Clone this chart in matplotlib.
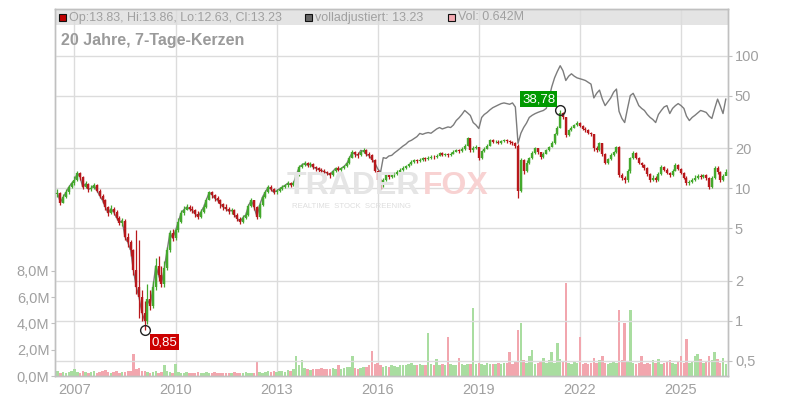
import matplotlib
matplotlib.use("Agg")
import matplotlib.pyplot as plt
import pandas as pd
import numpy as np
from matplotlib.patches import Rectangle

plt.rcParams['font.family'] = ['Liberation Sans', 'DejaVu Sans']

# ---- data (monthly readings, starting July 2006) ----
close = [
    9.2, 7.8, 8.6, 9.3, 10.2, 10.9, 11.5, 13.0, 12.2, 10.2, 10.8, 9.8,
    10.0, 10.5, 9.6, 8.8, 8.1, 7.2, 6.5, 7.0, 6.6, 6.0, 5.5, 5.7,
    4.3, 3.9, 3.4, 2.4, 1.8, 1.5, 1.15, 1.0, 1.45, 1.3, 1.8, 2.6,
    2.2, 1.9, 2.5, 3.4, 4.6, 4.2, 4.8, 5.6, 6.5, 6.9, 7.2, 7.0,
    6.8, 6.4, 6.1, 6.6, 7.2, 8.2, 9.3, 8.9, 8.4, 8.1, 7.6, 7.2,
    7.0, 6.7, 6.8, 6.3, 5.9, 5.6, 6.0, 6.3, 7.4, 8.1, 7.2, 6.1,
    7.5, 8.6, 9.4, 10.2, 9.8, 9.3, 9.6, 9.9, 10.2, 10.5, 10.9, 10.6,
    10.9, 12.5, 14.4, 15.0, 15.4, 14.9, 15.2, 14.4, 14.1, 13.8, 13.6, 13.3,
    13.0, 12.6, 13.4, 14.1, 13.8, 14.1, 14.6, 15.4, 17.0, 18.6, 18.0, 17.7,
    18.8, 19.3, 18.2, 17.7, 16.2, 13.6, 11.5, 10.5, 11.6, 12.5, 12.2, 12.5,
    12.9, 13.3, 13.8, 14.1, 14.6, 15.2, 15.8, 16.2, 16.0, 16.4, 16.8, 16.5,
    16.9, 17.3, 17.1, 17.6, 18.3, 17.9, 18.0, 17.7, 18.2, 18.8, 19.3, 19.0,
    19.8, 21.0, 23.8, 19.3, 20.0, 20.4, 16.8, 19.0, 19.8, 21.0, 23.0, 22.4,
    22.5, 22.0, 22.6, 23.0, 22.8, 22.3, 22.0, 21.0, 9.5, 16.2, 13.6, 15.5,
    16.8, 18.5, 20.0, 18.6, 17.1, 18.2, 19.3, 20.5, 22.0, 25.5, 28.7, 37.0,
    34.2, 25.0, 27.5, 28.7, 30.0, 31.3, 29.5, 28.2, 27.5, 26.3, 25.5, 20.0,
    19.3, 21.8, 18.0, 15.6, 16.5, 17.7, 18.6, 20.4, 12.5, 12.0, 11.5, 13.5,
    16.8, 18.3, 17.0, 15.6, 15.0, 14.1, 12.8, 11.5, 12.0, 11.5, 12.8, 14.4,
    13.8, 13.0, 12.5, 13.6, 14.9, 14.0, 13.0, 12.0, 10.9, 11.2, 11.5, 12.0,
    12.4, 12.1, 12.5, 11.9, 10.2, 12.0, 14.1, 13.2, 11.5, 12.4, 13.23,
]
high = [
    9.8, 9.4, 9.0, 9.8, 10.6, 11.4, 12.3, 13.6, 13.3, 12.4, 11.3, 11.0,
    10.6, 11.0, 10.7, 9.8, 9.0, 8.3, 7.4, 7.5, 7.2, 6.8, 6.2, 6.0,
    5.9, 4.6, 4.1, 3.5, 4.8, 4.1, 1.7, 1.4, 1.9, 1.7, 2.0, 3.0,
    3.1, 2.6, 2.8, 3.6, 4.8, 4.9, 5.0, 6.0, 6.9, 7.4, 7.6, 7.5,
    7.3, 7.0, 6.7, 7.0, 7.6, 8.5, 9.5, 9.6, 9.1, 8.7, 8.3, 7.8,
    7.6, 7.2, 7.1, 7.0, 6.5, 6.1, 6.3, 6.6, 7.6, 8.5, 8.2, 7.3,
    7.8, 8.9, 9.7, 10.6, 10.5, 10.0, 9.9, 10.3, 10.5, 10.8, 11.3, 11.2,
    11.3, 13.0, 14.9, 15.6, 16.1, 15.7, 15.8, 15.4, 14.8, 14.5, 14.3, 14.0,
    13.6, 13.3, 13.8, 14.5, 14.6, 14.5, 15.0, 15.9, 17.5, 19.3, 19.0, 18.6,
    19.4, 20.0, 19.6, 18.7, 18.1, 16.5, 13.8, 11.8, 12.0, 12.8, 12.9, 12.9,
    13.3, 13.7, 14.2, 14.6, 15.0, 15.6, 16.2, 16.6, 16.7, 16.8, 17.3, 17.2,
    17.4, 17.8, 17.7, 18.1, 18.8, 18.6, 18.5, 18.4, 18.7, 19.3, 19.9, 19.7,
    20.3, 21.7, 24.2, 23.0, 20.8, 21.2, 20.6, 19.5, 20.3, 21.5, 23.6, 23.4,
    23.2, 23.0, 23.2, 23.6, 23.4, 23.0, 22.7, 22.3, 21.5, 16.8, 16.5, 16.4,
    17.3, 19.0, 20.6, 20.2, 18.9, 18.7, 19.9, 21.0, 22.6, 26.0, 29.5, 38.78,
    37.5, 34.5, 28.2, 29.5, 30.7, 32.0, 31.6, 29.8, 28.9, 27.8, 26.6, 25.8,
    20.7, 22.4, 22.0, 18.4, 17.0, 18.3, 19.2, 21.0, 20.8, 13.1, 12.4, 14.0,
    17.3, 19.0, 18.6, 17.3, 15.9, 15.3, 14.4, 13.1, 12.5, 12.3, 13.2, 14.9,
    14.8, 14.2, 13.3, 14.0, 15.5, 15.2, 14.3, 13.3, 12.3, 11.6, 11.9, 12.5,
    12.8, 12.8, 12.9, 12.8, 12.2, 12.4, 14.6, 14.8, 13.6, 12.9, 13.86,
]
low = [
    8.6, 7.5, 7.7, 8.4, 9.0, 10.0, 10.6, 11.3, 11.6, 9.8, 10.0, 9.4,
    9.5, 9.8, 9.4, 8.4, 7.8, 6.9, 6.2, 6.4, 6.3, 5.8, 5.3, 5.2,
    4.1, 3.6, 3.1, 2.2, 1.6, 1.05, 1.0, 0.85, 0.95, 1.2, 1.25, 1.7,
    2.0, 1.8, 1.8, 2.4, 3.3, 4.0, 4.1, 4.7, 5.5, 6.3, 6.8, 6.7,
    6.5, 6.1, 5.9, 6.0, 6.5, 7.1, 8.1, 8.5, 8.0, 7.7, 7.1, 6.9,
    6.7, 6.4, 6.4, 6.1, 5.7, 5.4, 5.5, 5.9, 6.2, 7.2, 6.9, 5.9,
    6.0, 7.3, 8.4, 9.2, 9.5, 9.0, 9.1, 9.4, 9.7, 10.0, 10.3, 10.3,
    10.4, 10.7, 12.3, 14.1, 14.6, 14.4, 14.5, 14.0, 13.6, 13.3, 13.0, 12.8,
    12.5, 12.0, 12.4, 13.2, 13.4, 13.5, 13.9, 14.4, 15.2, 16.8, 17.3, 17.0,
    17.4, 18.4, 17.6, 17.0, 15.7, 13.2, 11.2, 9.9, 10.3, 11.4, 11.8, 11.9,
    12.2, 12.6, 13.1, 13.6, 14.0, 14.4, 15.0, 15.6, 15.5, 15.8, 16.1, 16.0,
    16.2, 16.7, 16.6, 16.9, 17.4, 17.4, 17.5, 17.2, 17.5, 18.0, 18.6, 18.5,
    18.7, 19.5, 20.8, 18.6, 18.9, 19.6, 16.2, 16.6, 18.8, 19.6, 20.7, 21.8,
    21.8, 21.5, 21.6, 22.3, 22.0, 21.6, 21.3, 20.2, 8.5, 9.3, 12.9, 13.3,
    15.2, 16.5, 18.2, 18.2, 16.7, 16.9, 18.0, 19.1, 20.3, 21.6, 25.2, 28.5,
    33.4, 24.2, 24.6, 27.0, 28.3, 29.5, 29.0, 27.6, 26.7, 25.8, 24.9, 19.0,
    18.8, 19.0, 17.5, 15.1, 15.3, 16.3, 17.4, 18.3, 12.2, 11.5, 11.0, 11.2,
    13.1, 16.5, 16.6, 15.2, 14.5, 13.7, 12.4, 11.1, 11.3, 11.1, 11.3, 12.6,
    13.4, 12.7, 12.1, 12.3, 13.4, 13.7, 12.7, 11.7, 10.5, 10.6, 11.0, 11.3,
    11.8, 11.8, 11.9, 11.6, 9.9, 10.1, 11.8, 12.9, 11.2, 11.3, 12.63,
]
first_open = 9.0

# fully adjusted line, from June 2015 on (before it coincides with close)
adjusted_from_2015 = [
    19.3, 19.0, 18.0, 17.5, 16.5, 15.5, 14.0, 13.2, 17.0, 16.8, 17.5, 17.7,
    18.5, 19.2, 20.0, 20.8, 21.5, 22.5, 23.0, 23.8, 24.5, 25.9, 25.5, 26.0,
    26.3, 26.0, 27.0, 28.0, 28.7, 28.0, 28.5, 29.0, 28.7, 30.0, 32.4, 34.0,
    36.0, 38.6, 37.0, 35.4, 31.3, 30.0, 28.2, 34.2, 36.0, 37.3, 39.0, 40.5,
    41.5, 42.5, 43.5, 44.0, 43.5, 43.0, 44.0, 41.0, 21.8, 26.0, 28.7, 31.0,
    34.2, 35.5, 36.5, 37.3, 38.0, 38.6, 40.0, 48.0, 58.0, 68.0, 76.0, 84.0,
    77.0, 65.0, 70.0, 73.0, 70.0, 68.0, 67.0, 66.0, 65.0, 63.0, 61.0, 48.0,
    52.0, 55.0, 47.0, 42.0, 45.0, 48.0, 53.0, 56.0, 38.0, 33.6, 31.3, 40.0,
    50.0, 52.0, 47.0, 42.0, 40.0, 38.6, 36.0, 34.2, 33.0, 31.3, 36.0, 38.6,
    41.0, 42.0, 36.6, 40.0, 42.0, 43.5, 42.0, 40.0, 35.0, 32.4, 34.2, 35.5,
    37.0, 38.6, 38.0, 37.3, 35.0, 33.6, 40.0, 47.0, 42.0, 36.6, 47.0,
]

# volume in millions
volume_m = [
    0.35, 0.25, 0.3, 0.2, 0.3, 0.4, 0.55, 0.3, 0.25, 0.35, 0.3, 0.25,
    0.3, 0.4, 0.25, 0.3, 0.35, 0.45, 0.3, 0.25, 0.3, 0.35, 0.25, 0.3,
    0.3, 0.35, 0.4, 1.7, 0.5, 0.6, 0.4, 0.35, 0.3, 0.25, 0.3, 0.35,
    0.25, 0.3, 0.8, 0.35, 0.3, 0.25, 0.9, 0.3, 0.25, 0.2, 0.3, 0.25,
    0.2, 0.25, 0.3, 0.2, 0.25, 0.3, 0.2, 0.25, 0.3, 0.2, 0.25, 0.2,
    0.2, 0.25, 0.2, 0.3, 0.25, 0.2, 0.25, 0.3, 0.2, 0.25, 0.2, 1.1,
    0.3, 0.25, 0.3, 0.35, 0.3, 0.4, 0.3, 0.35, 0.4, 0.3, 0.45, 0.4,
    0.5, 1.5, 0.8, 1.2, 0.6, 0.5, 0.45, 0.5, 0.55, 0.5, 0.6, 0.5,
    0.5, 0.55, 0.6, 0.5, 0.8, 0.55, 0.6, 0.65, 0.7, 1.5, 0.6, 0.55,
    0.6, 0.7, 0.65, 0.8, 1.9, 0.9, 1.0, 0.8, 0.7, 0.75, 0.7, 0.8,
    0.75, 0.7, 0.8, 0.85, 0.8, 0.9, 1.0, 0.85, 0.8, 0.9, 0.85, 0.8,
    3.3, 0.9, 0.8, 1.3, 0.85, 0.9, 0.8, 3.0, 0.9, 0.85, 0.8, 1.4,
    0.9, 0.85, 0.9, 0.95, 5.2, 0.9, 1.0, 0.95, 0.85, 1.0, 0.9, 0.95,
    0.95, 1.0, 0.9, 1.0, 1.0, 1.8, 0.9, 1.1, 3.5, 4.0, 1.2, 1.0,
    1.5, 2.0, 0.95, 1.0, 1.1, 1.4, 1.0, 1.2, 1.8, 1.0, 2.5, 1.3,
    1.1, 7.1, 1.0, 0.9, 1.1, 1.0, 3.0, 0.95, 1.0, 0.9, 1.0, 1.4,
    1.0, 1.2, 1.5, 1.0, 0.9, 1.0, 1.1, 1.0, 5.0, 1.2, 4.0, 1.1,
    5.0, 1.0, 0.9, 1.0, 1.5, 0.95, 1.0, 0.9, 1.2, 1.0, 1.3, 0.9,
    1.0, 1.1, 1.2, 1.0, 0.95, 1.1, 1.5, 1.0, 2.8, 1.0, 1.1, 1.5,
    1.7, 1.3, 1.0, 1.1, 1.5, 1.2, 1.8, 1.3, 1.0, 1.4, 0.9,
]

price_ticks = [0.5, 1, 2, 5, 10, 20, 50, 100]
price_labels = ['0,5', '1', '2', '5', '10', '20', '50', '100']
vol_ticks = [0, 2, 4, 6, 8]
vol_labels = ['0,0M', '2,0M', '4,0M', '6,0M', '8,0M']
year_ticks = [2007, 2010, 2013, 2016, 2019, 2022, 2025]

header_items = [
    ('Op:13.83, Hi:13.86, Lo:12.63, Cl:13.23', '#c00000'),
    ('volladjustiert: 13.23', '#666666'),
    ('Vol: 0.642M', '#f4a9b1'),
]
title = '20 Jahre, 7-Tage-Kerzen'

# ---- derived ----
dates = pd.date_range('2006-07-01', periods=len(close), freq='MS')
opens = [first_open] + close[:-1]
adjusted = close[:len(close) - len(adjusted_from_2015)] + adjusted_from_2015
up = [c >= o for o, c in zip(opens, close)]
min_index = int(np.argmin(low))
max_index = int(np.argmax(high))
min_low = low[min_index]
max_high = high[max_index]

GREEN = '#43a82c'
RED = '#b8181c'
VGREEN = '#a9dda0'
VPINK = '#f2a6ae'
TXT = '#a0a0a0'
GRID = '#dcdcdc'

W, H = 800, 400
fig = plt.figure(figsize=(8, 4), dpi=100)
L, R, T, B = 55, 728, 9, 376
axv = fig.add_axes([L / W, 1 - B / H, (R - L) / W, (B - T) / H])
ax = axv.twinx()
xlim = (pd.Timestamp('2006-06-04'), pd.Timestamp('2026-05-25'))

# volume axis (left)
axv.set_ylim(0, (B - T) / 13.15)
vcolors = [VGREEN if u else VPINK for u in up]
axv.bar(dates, volume_m, width=27, color=vcolors, linewidth=0, zorder=2)
axv.set_yticks(vol_ticks)
axv.set_yticklabels(vol_labels)
axv.tick_params(axis='y', colors='#c0c0c0', labelcolor=TXT, labelsize=10.5,
                length=3, pad=1)
axv.set_xticks([pd.Timestamp(f'{y}-01-01') for y in year_ticks])
axv.set_xticklabels([str(y) for y in year_ticks])
axv.tick_params(axis='x', length=0, pad=5, labelcolor=TXT, labelsize=10.5)
axv.grid(axis='x', color=GRID, linewidth=1, zorder=1)
axv.set_axisbelow(True)
axv.set_xlim(*xlim)

# header band
axv.add_patch(Rectangle((0, 1 - 16 / (B - T)), 1, 16 / (B - T),
                        transform=axv.transAxes, facecolor='#e4e4e4',
                        edgecolor='none', zorder=0.5))

# price axis (right, log)
ax.set_yscale('log')
ax.set_ylim(0.383, 225)
ax.set_xlim(*xlim)
ax.yaxis.set_minor_locator(matplotlib.ticker.NullLocator())
ax.set_yticks(price_ticks)
ax.set_yticklabels(price_labels)
ax.tick_params(axis='y', colors='#c0c0c0', labelcolor=TXT, labelsize=10.5,
               length=3, pad=2)
for t in price_ticks:
    ax.axhline(t, color=GRID, linewidth=1, zorder=0)

for a in (ax, axv):
    for s in a.spines.values():
        s.set_color('#c0c0c0')
        s.set_linewidth(1)

ax.plot(dates, adjusted, color='#7c7c7c', linewidth=1.0, zorder=2)
body_lo = [min(o, c) for o, c in zip(opens, close)]
body_hi = [max(o, c) for o, c in zip(opens, close)]
ccolors = [GREEN if u else RED for u in up]
ax.vlines(dates, low, high, colors=ccolors, linewidth=0.9, zorder=3)
ax.vlines(dates, body_lo, body_hi, colors=ccolors, linewidth=1.7, zorder=3)

# extreme markers
dmin, dmax = dates[min_index], dates[max_index]
ax.plot([dmin], [min_low], marker='o', markersize=7, markerfacecolor='none',
        markeredgecolor='#222222', markeredgewidth=1, zorder=5)
ax.plot([dmax], [max_high], marker='o', markersize=7, markerfacecolor='none',
        markeredgecolor='#222222', markeredgewidth=1, zorder=5)
ax.annotate(f'{min_low:.2f}'.replace('.', ','), (dmin, min_low),
            xytext=(7, -6), textcoords='offset pixels', ha='left', va='top',
            color='white', fontsize=9.5, zorder=6,
            bbox=dict(boxstyle='square,pad=0.15', facecolor='#cc0000',
                      edgecolor='none'))
ax.annotate(f'{max_high:.2f}'.replace('.', ','), (dmax, max_high),
            xytext=(-5, 5), textcoords='offset pixels', ha='right',
            va='bottom', color='white', fontsize=9.5, zorder=6,
            bbox=dict(boxstyle='square,pad=0.15', facecolor='#009a00',
                      edgecolor='none'))

# watermark
fig.text(287 / W, 1 - 186 / H, 'TRADER', fontsize=23, fontweight='bold',
         color='#e5e5e5', ha='left', va='center', zorder=0)
fig.text(423 / W, 1 - 186 / H, 'FOX', fontsize=23, fontweight='bold',
         color='#f8d2d2', ha='left', va='center', zorder=0)
fig.text(292 / W, 1 - 207 / H, 'REALTIME  STOCK  SCREENING', fontsize=5.6,
         color='#dedede', ha='left', va='center', zorder=0)
axv.patch.set_alpha(0)

# header legend
xs = [59, 305, 448]
for (label, col), x0 in zip(header_items, xs):
    fig.add_artist(Rectangle((x0 / W, 1 - 21 / H), 7 / W, 7 / H,
                             transform=fig.transFigure, facecolor=col,
                             edgecolor='#111111', linewidth=0.8))
    fig.text((x0 + 10) / W, 1 - 17.5 / H, label, fontsize=9, color=TXT,
             ha='left', va='center')

fig.text(61 / W, 1 - 40 / H, title, fontsize=11.5, fontweight='bold',
         color='#9a9a9a', ha='left', va='center')

fig.savefig('out.png', dpi=100, facecolor='white')
